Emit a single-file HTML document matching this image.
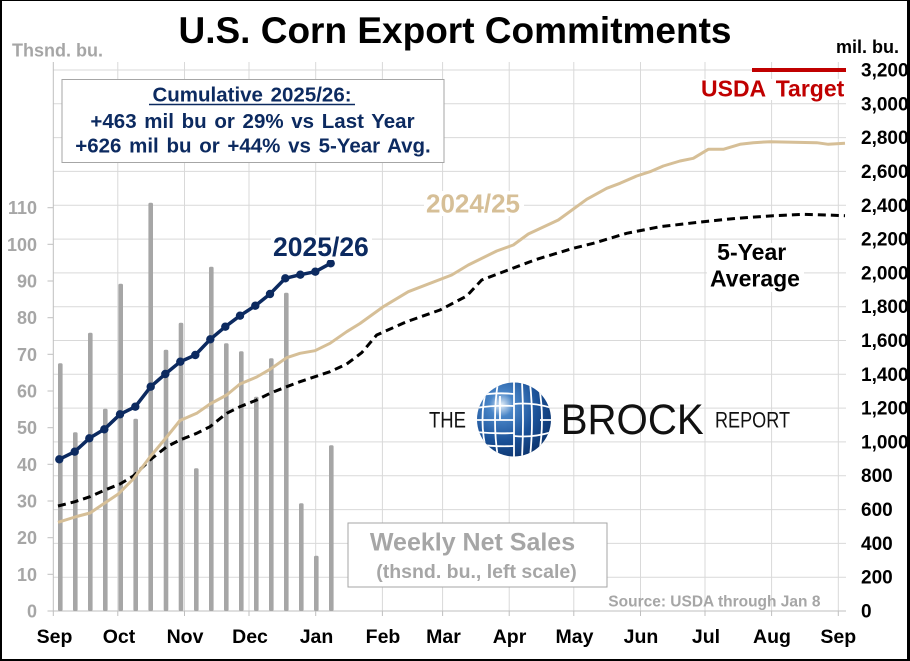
<!DOCTYPE html>
<html><head><meta charset="utf-8"><style>
html,body{margin:0;padding:0;background:#fff;}
svg{display:block;}
text{font-family:"Liberation Sans",Arial,sans-serif;font-weight:bold;}
</style></head><body>
<svg width="910" height="661" viewBox="0 0 910 661" xmlns="http://www.w3.org/2000/svg">
<defs>
<clipPath id="gc"><circle cx="514" cy="419.5" r="37"/></clipPath>
<radialGradient id="rg" cx="0.33" cy="0.3" r="0.8">
<stop offset="0" stop-color="#e4eef8"/><stop offset="0.2" stop-color="#4a86c8"/><stop offset="0.6" stop-color="#1b5299"/><stop offset="1" stop-color="#0b3169"/>
</radialGradient>
</defs>
<rect x="0" y="0" width="910" height="661" fill="#fff"/>

<!-- horizontal gridlines -->
<g stroke="#d9d9d9" stroke-width="1">
<line x1="53" x2="846" y1="577.2" y2="577.2"/><line x1="53" x2="846" y1="543.4" y2="543.4"/>
<line x1="53" x2="846" y1="509.6" y2="509.6"/><line x1="53" x2="846" y1="475.7" y2="475.7"/>
<line x1="53" x2="846" y1="441.9" y2="441.9"/><line x1="53" x2="846" y1="408.1" y2="408.1"/>
<line x1="53" x2="846" y1="374.3" y2="374.3"/><line x1="53" x2="846" y1="340.5" y2="340.5"/>
<line x1="53" x2="846" y1="306.7" y2="306.7"/><line x1="53" x2="846" y1="272.9" y2="272.9"/>
<line x1="53" x2="846" y1="239.1" y2="239.1"/><line x1="53" x2="846" y1="205.3" y2="205.3"/>
<line x1="53" x2="846" y1="171.4" y2="171.4"/><line x1="53" x2="846" y1="137.6" y2="137.6"/>
<line x1="53" x2="846" y1="103.8" y2="103.8"/><line x1="53" x2="846" y1="70" y2="70"/>
</g>
<!-- vertical gridlines -->
<g stroke="#d9d9d9" stroke-width="1">
<line x1="117.8" x2="117.8" y1="62" y2="611"/><line x1="184.5" x2="184.5" y1="62" y2="611"/>
<line x1="249" x2="249" y1="62" y2="611"/><line x1="315.7" x2="315.7" y1="62" y2="611"/>
<line x1="382.4" x2="382.4" y1="62" y2="611"/><line x1="442.6" x2="442.6" y1="62" y2="611"/>
<line x1="509.2" x2="509.2" y1="62" y2="611"/><line x1="573.8" x2="573.8" y1="62" y2="611"/>
<line x1="640.5" x2="640.5" y1="62" y2="611"/><line x1="705" x2="705" y1="62" y2="611"/>
<line x1="771.6" x2="771.6" y1="62" y2="611"/><line x1="838.3" x2="838.3" y1="62" y2="611"/>
</g>
<!-- axes -->
<g stroke="#bfbfbf" stroke-width="1">
<line x1="53.3" x2="53.3" y1="62" y2="611"/>
<line x1="53" x2="846" y1="611" y2="611"/>
<line x1="47.5" x2="53.3" y1="611" y2="611"/><line x1="47.5" x2="53.3" y1="574.3" y2="574.3"/>
<line x1="47.5" x2="53.3" y1="537.7" y2="537.7"/><line x1="47.5" x2="53.3" y1="501" y2="501"/>
<line x1="47.5" x2="53.3" y1="464.3" y2="464.3"/><line x1="47.5" x2="53.3" y1="427.7" y2="427.7"/>
<line x1="47.5" x2="53.3" y1="391" y2="391"/><line x1="47.5" x2="53.3" y1="354.3" y2="354.3"/>
<line x1="47.5" x2="53.3" y1="317.7" y2="317.7"/><line x1="47.5" x2="53.3" y1="281" y2="281"/>
<line x1="47.5" x2="53.3" y1="244.3" y2="244.3"/><line x1="47.5" x2="53.3" y1="207.7" y2="207.7"/>
<line x1="53.3" x2="53.3" y1="611" y2="616"/><line x1="117.8" x2="117.8" y1="611" y2="616"/>
<line x1="184.5" x2="184.5" y1="611" y2="616"/><line x1="249" x2="249" y1="611" y2="616"/>
<line x1="315.7" x2="315.7" y1="611" y2="616"/><line x1="382.4" x2="382.4" y1="611" y2="616"/>
<line x1="442.6" x2="442.6" y1="611" y2="616"/><line x1="509.2" x2="509.2" y1="611" y2="616"/>
<line x1="573.8" x2="573.8" y1="611" y2="616"/><line x1="640.5" x2="640.5" y1="611" y2="616"/>
<line x1="705" x2="705" y1="611" y2="616"/><line x1="771.6" x2="771.6" y1="611" y2="616"/>
<line x1="838.3" x2="838.3" y1="611" y2="616"/>
</g>

<!-- bars -->
<g fill="#a6a6a6">
<rect x="58" y="363.3" width="4.6" height="247.7" rx="1.5"/>
<rect x="73" y="432.3" width="4.6" height="178.7" rx="1.5"/>
<rect x="88" y="332.7" width="4.6" height="278.3" rx="1.5"/>
<rect x="103" y="408.7" width="4.6" height="202.3" rx="1.5"/>
<rect x="118.4" y="283.7" width="4.6" height="327.3" rx="1.5"/>
<rect x="133.4" y="418.7" width="4.6" height="192.3" rx="1.5"/>
<rect x="148.4" y="202.7" width="4.6" height="408.3" rx="1.5"/>
<rect x="163.7" y="349.7" width="4.6" height="261.3" rx="1.5"/>
<rect x="178.7" y="322.7" width="4.6" height="288.3" rx="1.5"/>
<rect x="194" y="468.3" width="4.6" height="142.7" rx="1.5"/>
<rect x="209" y="266.7" width="4.6" height="344.3" rx="1.5"/>
<rect x="224" y="343.3" width="4.6" height="267.7" rx="1.5"/>
<rect x="239" y="351.3" width="4.6" height="259.7" rx="1.5"/>
<rect x="254" y="396.7" width="4.6" height="214.3" rx="1.5"/>
<rect x="269" y="358.3" width="4.6" height="252.7" rx="1.5"/>
<rect x="284" y="292.7" width="4.6" height="318.3" rx="1.5"/>
<rect x="299" y="503.3" width="4.6" height="107.7" rx="1.5"/>
<rect x="314" y="555.7" width="4.6" height="55.3" rx="1.5"/>
<rect x="329" y="445.3" width="4.6" height="165.7" rx="1.5"/>
</g>

<!-- logo -->
<g>
<text x="429" y="427.7" font-size="22" font-weight="normal" style="font-weight:normal" textLength="37" lengthAdjust="spacingAndGlyphs" fill="#111">THE</text>
<circle cx="514" cy="419.5" r="37" fill="url(#rg)"/>
<g clip-path="url(#gc)" stroke="#fff" stroke-width="1.8" fill="none">
<line x1="514" y1="380" x2="514" y2="460"/>
<path d="M476 396 Q495 392 514 394"/><path d="M476 408 Q495 405 514 406"/>
<path d="M476 420 L514 420"/><path d="M476 432 Q495 434 514 433"/>
<path d="M476 444 Q495 447 514 446"/>
<path d="M498 382 Q492 420 498 458"/><path d="M487 386 Q478 420 487 454"/>
<path d="M522 382 Q524 420 522 458"/><path d="M530 383 Q534 420 530 457"/>
<path d="M539 386 Q545 420 539 454"/>
<path d="M514 404 Q532 402 552 408"/><path d="M514 436 Q532 438 552 432"/>
<path d="M540 420 L552 420"/><path d="M500 396 L500 420"/>
</g>
<text x="560.7" y="434" font-size="43" textLength="143" lengthAdjust="spacingAndGlyphs" style="font-weight:normal" fill="#111">BROCK</text>
<text x="715" y="427.7" font-size="22" textLength="75" lengthAdjust="spacingAndGlyphs" style="font-weight:normal" fill="#111">REPORT</text>
</g>

<!-- 5-year average dashed -->
<polyline fill="none" stroke="#000" stroke-width="3" stroke-dasharray="8,5" stroke-linejoin="round"
points="58,506 75,501.7 90,496.7 105,490 120,484 133.3,476 150,460 166.7,446.7 180,440 196.7,433.3 210,426.7 226.7,413.3 240,406.7 256.7,400 270,393.3 286.7,386.7 300,381.7 315,376.7 330,371.7 346.7,364 361.7,352.7 376.7,335 406.7,321.7 440,310 466.7,296 481.7,280 510,269.3 536.7,259.3 573.3,248.3 593.3,243.3 626.7,233.3 660,226.7 703.3,221.7 736.7,218.3 773.3,215.7 803.3,214.3 826.7,215 845,215.7"/>

<!-- 2024/25 tan -->
<polyline fill="none" stroke="#d6bf97" stroke-width="3" stroke-linejoin="round"
points="58,522.3 76.7,516.5 90,513 103.3,504 118.3,494 133.3,479 150,457 166.7,437 180,420.5 196.7,413.3 210,404 226.7,395 240,384 256.7,377 270,369.3 286.7,357.7 300,353.3 315,350.7 330,343.3 346.7,331.7 360,323.5 383.3,306.7 408.3,291.7 451.7,275 468.3,265 496.7,251 513.3,245 528.3,234 558.3,220 586.7,199.3 606.7,188.3 620,183.3 636.7,176 650,171.7 663.3,166 680,161 693.3,158.3 708.3,149.3 723.3,149.3 740,144.3 753.3,142.7 770,141.7 793.3,142.3 816.7,142.7 828.3,144.3 845,143.3"/>

<!-- 2025/26 navy -->
<g fill="#0c2a60">
<polyline fill="none" stroke="#0c2a60" stroke-width="3.5" stroke-linejoin="round"
points="59.3,459.3 74.7,451.7 89.3,438.3 104.3,429.3 120,414.3 135.3,406.7 150.7,386.7 165.3,374 180.3,361.7 195.3,355 210.3,339.3 225.3,326.7 240,315.7 255.3,305.7 270,294 285.3,278.3 300.3,274.7 315.3,271.7 330.7,263.3"/>
<circle cx="59.3" cy="459.3" r="4.2"/><circle cx="74.7" cy="451.7" r="4.2"/><circle cx="89.3" cy="438.3" r="4.2"/>
<circle cx="104.3" cy="429.3" r="4.2"/><circle cx="120" cy="414.3" r="4.2"/><circle cx="135.3" cy="406.7" r="4.2"/>
<circle cx="150.7" cy="386.7" r="4.2"/><circle cx="165.3" cy="374" r="4.2"/><circle cx="180.3" cy="361.7" r="4.2"/>
<circle cx="195.3" cy="355" r="4.2"/><circle cx="210.3" cy="339.3" r="4.2"/><circle cx="225.3" cy="326.7" r="4.2"/>
<circle cx="240" cy="315.7" r="4.2"/><circle cx="255.3" cy="305.7" r="4.2"/><circle cx="270" cy="294" r="4.2"/>
<circle cx="285.3" cy="278.3" r="4.2"/><circle cx="300.3" cy="274.7" r="4.2"/><circle cx="315.3" cy="271.7" r="4.2"/>
<circle cx="330.7" cy="263.3" r="4.2"/>
</g>

<!-- USDA target -->
<line x1="752" x2="846" y1="70" y2="70" stroke="#c00000" stroke-width="4"/>
<rect x="700" y="79" width="148" height="21" fill="#fff"/>
<text x="701" y="96.7" font-size="23" word-spacing="4" fill="#c00000">USDA Target</text>

<!-- labels -->
<rect x="271" y="235" width="101" height="25" fill="#fff"/>
<text x="273" y="256" font-size="26.5" fill="#0c2a60">2025/26</text>
<rect x="424" y="191" width="100" height="25" fill="#fff"/>
<text x="426" y="212.5" font-size="26" fill="#d6bf97">2024/25</text>
<rect x="707" y="243" width="97" height="49" fill="#fff"/>
<text x="751.7" y="260" font-size="23" text-anchor="middle" fill="#000">5-Year</text>
<text x="755" y="286.7" font-size="23" text-anchor="middle" fill="#000">Average</text>

<!-- info box -->
<rect x="62" y="79.5" width="382" height="83" fill="#fff" stroke="#a6a6a6" stroke-width="1"/>
<g fill="#0c2a60" font-size="20.5" word-spacing="2" text-anchor="middle">
<text x="252" y="101.5">Cumulative 2025/26:</text>
<text x="252.5" y="128">+463 mil bu or 29% vs Last Year</text>
<text x="253" y="152.5">+626 mil bu or +44% vs 5-Year Avg.</text>
</g>
<line x1="149" x2="355" y1="104.5" y2="104.5" stroke="#0c2a60" stroke-width="1.5"/>

<!-- weekly box -->
<rect x="348" y="523" width="259" height="64" fill="#fff" stroke="#a6a6a6" stroke-width="1"/>
<text x="472.5" y="550.7" font-size="25" text-anchor="middle" fill="#a6a6a6">Weekly Net Sales</text>
<text x="476.5" y="578" font-size="19.5" text-anchor="middle" fill="#a6a6a6">(thsnd. bu., left scale)</text>

<text x="608.3" y="606.7" font-size="15.5" fill="#a6a6a6">Source: USDA through Jan 8</text>

<!-- titles -->
<text x="455" y="43" font-size="37" text-anchor="middle" fill="#000">U.S. Corn Export Commitments</text>
<text x="12" y="56.5" font-size="18" fill="#a6a6a6">Thsnd. bu.</text>
<text x="836" y="53" font-size="18" fill="#000">mil. bu.</text>

<!-- left axis labels -->
<g font-size="18" fill="#a6a6a6" text-anchor="end">
<text x="37" y="617.5">0</text><text x="37" y="580.8">10</text><text x="37" y="544.2">20</text>
<text x="37" y="507.5">30</text><text x="37" y="470.8">40</text><text x="37" y="434.2">50</text>
<text x="37" y="397.5">60</text><text x="37" y="360.8">70</text><text x="37" y="324.2">80</text>
<text x="37" y="287.5">90</text><text x="37" y="250.8">100</text><text x="37" y="214.2">110</text>
</g>
<!-- right axis labels -->
<g font-size="19" fill="#000">
<text x="861" y="617.5">0</text><text x="861" y="583.7">200</text><text x="861" y="549.9">400</text>
<text x="861" y="516.1">600</text><text x="861" y="482.2">800</text><text x="861" y="448.4">1,000</text>
<text x="861" y="414.6">1,200</text><text x="861" y="380.8">1,400</text><text x="861" y="347">1,600</text>
<text x="861" y="313.2">1,800</text><text x="861" y="279.4">2,000</text><text x="861" y="245.6">2,200</text>
<text x="861" y="211.8">2,400</text><text x="861" y="177.9">2,600</text><text x="861" y="144.1">2,800</text>
<text x="861" y="110.3">3,000</text><text x="861" y="76.5">3,200</text>
</g>
<!-- x axis labels -->
<g font-size="19.5" fill="#000" text-anchor="middle">
<text x="54.5" y="643">Sep</text><text x="119" y="643">Oct</text><text x="185" y="643">Nov</text>
<text x="250" y="643">Dec</text><text x="316.5" y="643">Jan</text><text x="383" y="643">Feb</text>
<text x="443.5" y="643">Mar</text><text x="509.5" y="643">Apr</text><text x="574.5" y="643">May</text>
<text x="641" y="643">Jun</text><text x="706" y="643">Jul</text><text x="772" y="643">Aug</text>
<text x="838.3" y="643">Sep</text>
</g>

<!-- frame -->
<rect x="0" y="0" width="910" height="1" fill="#000"/>
<rect x="0" y="0" width="2" height="661" fill="#000"/>
<rect x="907" y="0" width="3" height="661" fill="#000"/>
<rect x="0" y="659" width="910" height="2" fill="#000"/>
</svg>
</body></html>
